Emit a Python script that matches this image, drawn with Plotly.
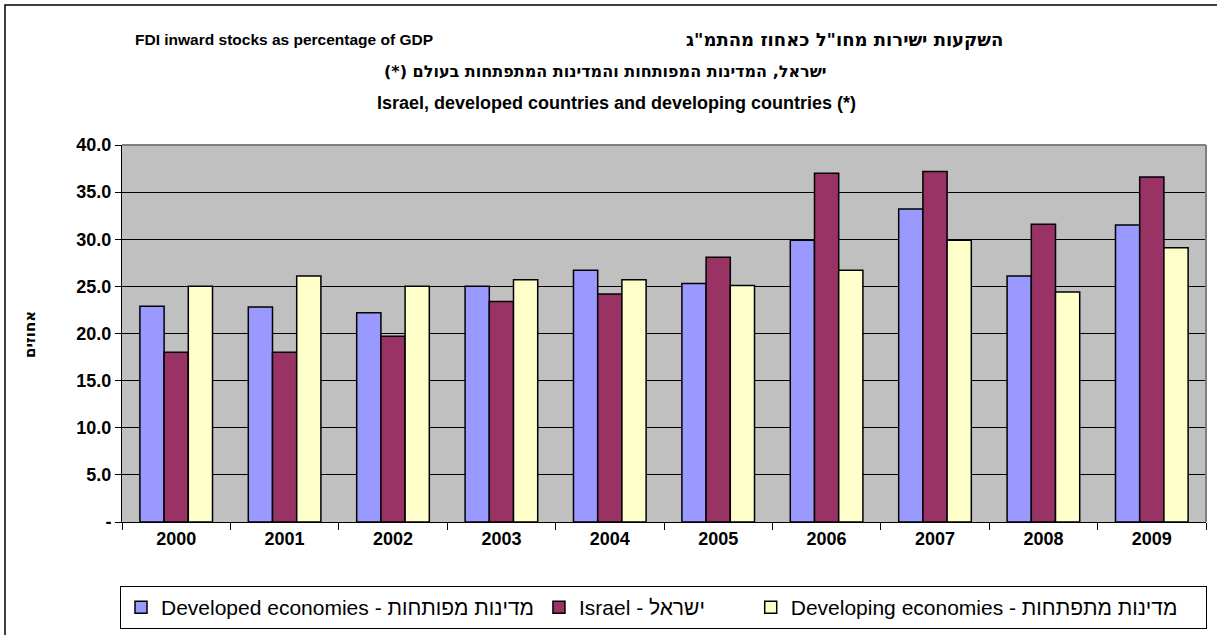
import plotly.graph_objects as go

years = [2000, 2001, 2002, 2003, 2004, 2005, 2006, 2007, 2008, 2009]
developed = [22.9, 22.8, 22.2, 25.0, 26.7, 25.3, 29.9, 33.2, 26.1, 31.5]
israel = [18.0, 18.0, 19.7, 23.4, 24.2, 28.1, 37.0, 37.2, 31.6, 36.6]
developing = [25.0, 26.1, 25.0, 25.7, 25.7, 25.1, 26.7, 29.9, 24.4, 29.1]

series_names = [
    "Developed economies - מדינות מפותחות",
    "Israel - ישראל",
    "Developing economies - מדינות מתפתחות",
]
series_colors = ["#9999FF", "#993366", "#FFFFCC"]

y_tickvals = [0, 5, 10, 15, 20, 25, 30, 35, 40]
y_ticktext = ["-", "5.0", "10.0", "15.0", "20.0", "25.0", "30.0", "35.0", "40.0"]

title_en = "FDI inward stocks as percentage of GDP"
title_he = "השקעות ישירות מחו\"ל כאחוז מהתמ\"ג"
title_line2 = "ישראל, המדינות המפותחות והמדינות המתפתחות בעולם (*)"
title_line3 = "Israel, developed countries and developing countries (*)"
y_title = "אחוזים"

W, H = 1217, 635
L, R, T, B = 122, 1206, 145, 522


def px(x):
    return (x - L) / (R - L)


def py(y):
    return (B - y) / (B - T)


NB = "\u00a0"
legend_labels = [
    series_names[0],
    series_names[1] + NB * 7,
    series_names[2] + NB * 4,
]

fig = go.Figure()
for lab, vals, col in zip(legend_labels, [developed, israel, developing], series_colors):
    fig.add_trace(go.Bar(
        x=years, y=vals, name=lab,
        marker=dict(color=col, line=dict(color="black", width=1.5)),
    ))

font_main = "Arial, 'Liberation Sans', sans-serif"
font_he = "'DejaVu Sans', Arial, sans-serif"

fig.update_layout(
    width=W, height=H,
    margin=dict(l=L, r=W - R, t=T, b=H - B, autoexpand=False),
    paper_bgcolor="white",
    plot_bgcolor="#C0C0C0",
    barmode="group",
    bargap=0.33,
    bargroupgap=0,
    font=dict(family=font_main, color="black"),
    showlegend=True,
    legend=dict(
        orientation="h",
        x=px(120), y=py(586), xanchor="left", yanchor="top",
        bgcolor="white", bordercolor="black", borderwidth=1,
        font=dict(size=21, family=font_main, color="black"),
        itemwidth=30,
        tracegroupgap=0,
        traceorder="normal",
    ),
    xaxis=dict(
        range=[1999.5, 2009.5],
        tickvals=years,
        ticktext=[str(y) for y in years],
        ticks="",
        tickfont=dict(size=18, family=font_main, color="black", weight="bold"),
        showgrid=False,
        showline=True, linecolor="black", linewidth=1,
        zeroline=False,
        minor=dict(ticks="outside", tick0=1999.5, dtick=1, ticklen=7, tickcolor="black", showgrid=False),
        fixedrange=True,
    ),
    yaxis=dict(
        range=[0, 40],
        tickvals=y_tickvals,
        ticktext=y_ticktext,
        ticks="outside", ticklen=6, tickcolor="black",
        tickfont=dict(size=18, family=font_main, color="black", weight="bold"),
        showgrid=True, gridcolor="black", gridwidth=1,
        showline=True, linecolor="black", linewidth=1,
        zeroline=False,
        fixedrange=True,
    ),
    shapes=[
        dict(type="line", xref="paper", yref="paper", x0=0, x1=1, y0=1, y1=1,
             line=dict(color="#808080", width=2)),
        dict(type="line", xref="paper", yref="paper", x0=1, x1=1, y0=0, y1=1,
             line=dict(color="#808080", width=2)),
        dict(type="rect", xref="paper", yref="paper", x0=px(5), x1=px(1240), y0=py(5), y1=py(660),
             line=dict(color="black", width=1.5), fillcolor="rgba(0,0,0,0)", layer="below"),
    ],
    annotations=[
        dict(text=title_en, xref="paper", yref="paper", x=px(284), y=py(40),
             showarrow=False, xanchor="center", yanchor="middle",
             font=dict(size=15.5, family=font_main, color="black", weight="bold")),
        dict(text=title_he, xref="paper", yref="paper", x=px(1005), y=py(40),
             showarrow=False, xanchor="right", yanchor="middle",
             font=dict(size=18, family=font_he, color="black", weight="bold")),
        dict(text="\u202b" + title_line2 + "\u202c", xref="paper", yref="paper", x=px(605), y=py(71),
             showarrow=False, xanchor="center", yanchor="middle",
             font=dict(size=16, family=font_he, color="black", weight="bold")),
        dict(text=title_line3, xref="paper", yref="paper", x=px(616), y=py(103),
             showarrow=False, xanchor="center", yanchor="middle",
             font=dict(size=18, family=font_main, color="black", weight="bold")),
        dict(text=y_title, xref="paper", yref="paper", x=px(30), y=py(335),
             showarrow=False, xanchor="center", yanchor="middle", textangle=-90,
             font=dict(size=15, family=font_he, color="black", weight="bold")),
    ],
)

fig.write_html("out.html", config={"displayModeBar": False},
               post_script="document.body.style.margin='0';document.body.style.overflow='hidden';")
